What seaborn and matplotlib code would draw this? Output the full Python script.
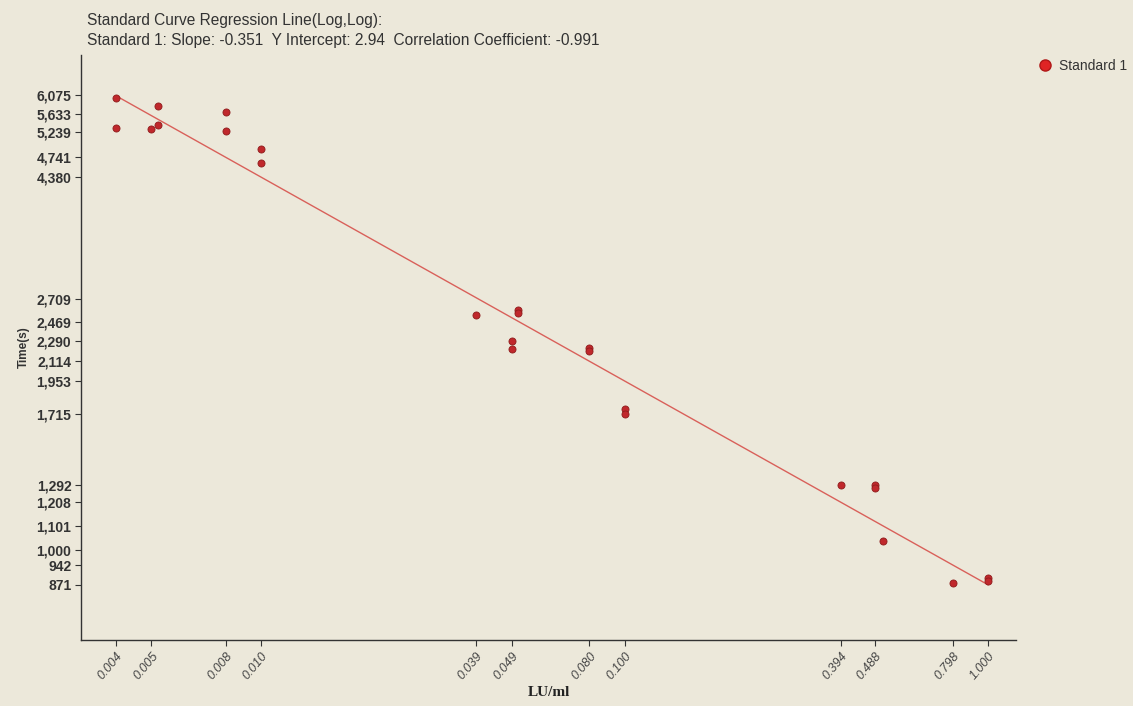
import numpy as np
import pandas as pd
import matplotlib
matplotlib.use("Agg")
import matplotlib.pyplot as plt
import seaborn as sns

# ---- data ----
conc = [0.004, 0.004, 0.005, 0.0052, 0.0052, 0.008, 0.008, 0.010, 0.010,
        0.039, 0.049, 0.049, 0.051, 0.051, 0.080, 0.080, 0.100, 0.100,
        0.394, 0.488, 0.488, 0.513, 0.798, 1.000, 1.000]
time_s = [6003, 5324, 5297, 5817, 5395, 5667, 5255, 4898, 4629,
          2534, 2289, 2220, 2590, 2560, 2230, 2205, 1746, 1714,
          1294, 1296, 1277, 1036, 877, 895, 885]
slope = -0.351
intercept = 2.94
corr = -0.991
x_ticks = [0.004, 0.005, 0.008, 0.010, 0.039, 0.049, 0.080, 0.100,
           0.394, 0.488, 0.798, 1.000]
y_ticks = [6075, 5633, 5239, 4741, 4380, 2709, 2469, 2290, 2114, 1953,
           1715, 1292, 1208, 1101, 1000, 942, 871]
fit_x = [0.004, 1.000]
series_name = "Standard 1"

bg = "#ECE8DA"
sns.set_theme(style="white")
plt.rcParams['font.family'] = ['Liberation Sans', 'DejaVu Sans']

fig = plt.figure(figsize=(11.33, 7.06), dpi=100, facecolor=bg)
ax = fig.add_axes([0.0715, 0.0935, 0.8255, 0.8285])
ax.set_facecolor(bg)

df = pd.DataFrame({"LU/ml": conc, "Time(s)": time_s})
fit_df = pd.DataFrame({"x": fit_x,
                       "y": [10 ** (intercept + slope * np.log10(v)) for v in fit_x]})

sns.lineplot(data=fit_df, x="x", y="y", ax=ax, color="#D9605A", linewidth=1.0)
sns.scatterplot(data=df, x="LU/ml", y="Time(s)", ax=ax, color="#C0282C",
                edgecolor="#8E1C1C", linewidth=0.6, s=26, zorder=3, legend=False)

ax.set_xscale("log")
ax.set_yscale("log")
ax.set_xlim(0.0032, 1.195)
ax.set_ylim(700, 7112)

ax.xaxis.set_minor_locator(matplotlib.ticker.NullLocator())
ax.yaxis.set_minor_locator(matplotlib.ticker.NullLocator())
ax.set_xticks(x_ticks)
ax.set_xticklabels([f"{v:.3f}" for v in x_ticks], rotation=50, ha="right",
                   rotation_mode="anchor", fontsize=9, color="#444444",
                   style="italic")
ax.set_yticks(y_ticks)
ax.set_yticklabels([f"{v:,}" for v in y_ticks], fontsize=10,
                   color="#333333", fontweight="bold")
ax.tick_params(axis="both", which="major", length=4, width=0.8,
               color="#333333", direction="out", bottom=True, left=True,
               pad=3)

for s in ["top", "right"]:
    ax.spines[s].set_visible(False)
for s in ["left", "bottom"]:
    ax.spines[s].set_color("#333333")
    ax.spines[s].set_linewidth(1.0)

ax.set_xlabel("LU/ml", fontsize=11, fontweight="bold", color="#222222",
              family=["Liberation Serif", "DejaVu Serif"])
ax.set_ylabel("Time(s)", fontsize=8.5, fontweight="bold", color="#333333")
ax.xaxis.set_label_coords(0.5, -0.078)
ax.yaxis.set_label_coords(-0.055, 0.5)

fig.text(87 / 1133, 1 - 20 / 706, "Standard Curve Regression Line(Log,Log):",
         fontsize=11.2, color="#333333", va="center", ha="left")
fig.text(87 / 1133, 1 - 40 / 706,
         f"{series_name}: Slope: {slope:.3f}  Y Intercept: {intercept:.2f}  "
         f"Correlation Coefficient: {corr:.3f}",
         fontsize=11.2, color="#333333", va="center", ha="left")

# legend at the top right
fig.text(1059 / 1133, 1 - 66 / 706, series_name, fontsize=10,
         color="#333333", va="center", ha="left")
fig.lines.append(matplotlib.lines.Line2D([1045 / 1133], [1 - 65 / 706],
                 transform=fig.transFigure, marker="o", markersize=8,
                 color="#E02424", markeredgecolor="#B01818", linestyle=""))

fig.savefig("out.png", dpi=100, facecolor=bg)
